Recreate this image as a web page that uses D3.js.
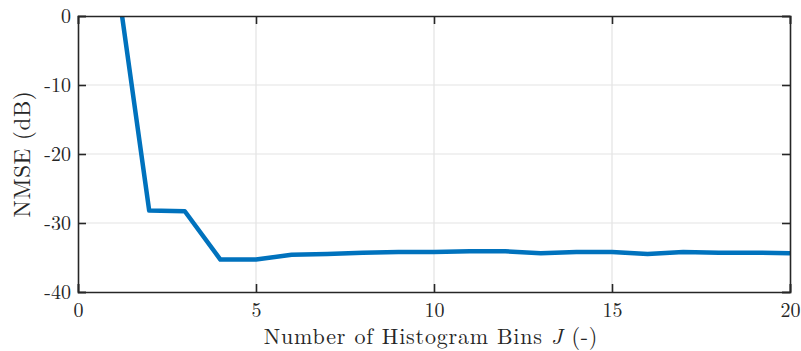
<!DOCTYPE html>
<html lang="en">
<head>
  <meta charset="UTF-8">
  <title>NMSE vs histogram bins</title>
  <script src="https://d3js.org/d3.v7.min.js"></script>
  <style>
    body { margin: 0; background: #fff; }
    svg text { font-family: "Latin Modern Roman", "CMU Serif", "Liberation Serif", serif; fill: #262626; }
  </style>
</head>
<body>
  <div id="viz"></div>
  <script>
    // Data
    const bins = [1, 2, 3, 4, 5, 6, 7, 8, 9, 10, 11, 12, 13, 14, 15, 16, 17, 18, 19, 20];
    const nmse = [8.8, -28.2, -28.3, -35.3, -35.3, -34.6, -34.5, -34.3, -34.2, -34.2,
                  -34.1, -34.1, -34.4, -34.2, -34.2, -34.5, -34.2, -34.3, -34.3, -34.4];
    const xTicks = [0, 5, 10, 15, 20];
    const yTicks = [-40, -30, -20, -10, 0];

    const width = 801, height = 351;
    const margin = {top: 16, right: 11, bottom: 59, left: 78};

    const svg = d3.select('#viz').append('svg')
      .attr('width', width)
      .attr('height', height);

    const x = d3.scaleLinear().domain([0, 20]).range([margin.left, width - margin.right]);
    const y = d3.scaleLinear().domain([-40, 0]).range([height - margin.bottom, margin.top]);

    const axisColor = '#262626';
    const tickLen = 8;

    // Grid
    svg.append('g').selectAll('line')
      .data(xTicks.slice(1, -1)).join('line')
      .attr('x1', d => x(d)).attr('x2', d => x(d))
      .attr('y1', y(-40)).attr('y2', y(0))
      .attr('stroke', '#e3e3e3').attr('stroke-width', 1.2);
    svg.append('g').selectAll('line')
      .data(yTicks.slice(1, -1)).join('line')
      .attr('x1', x(0)).attr('x2', x(20))
      .attr('y1', d => y(d)).attr('y2', d => y(d))
      .attr('stroke', '#e3e3e3').attr('stroke-width', 1.2);

    // Line, clipped to plot box
    svg.append('clipPath').attr('id', 'clip')
      .append('rect')
      .attr('x', x(0)).attr('y', y(0))
      .attr('width', x(20) - x(0)).attr('height', y(-40) - y(0));

    const line = d3.line()
      .x((d, i) => x(bins[i]))
      .y(d => y(d));

    svg.append('path')
      .datum(nmse)
      .attr('clip-path', 'url(#clip)')
      .attr('fill', 'none')
      .attr('stroke', '#0072BD')
      .attr('stroke-width', 4.5)
      .attr('stroke-linejoin', 'round')
      .attr('d', line);

    // Axes (ticks inward on all four sides)
    const axBottom = svg.append('g')
      .attr('transform', `translate(0,${y(-40)})`)
      .call(d3.axisBottom(x).tickValues(xTicks).tickSize(-tickLen).tickPadding(11).tickFormat(d3.format('d')));
    const axTop = svg.append('g')
      .attr('transform', `translate(0,${y(0)})`)
      .call(d3.axisTop(x).tickValues(xTicks).tickSize(-tickLen).tickFormat(''));
    const axLeft = svg.append('g')
      .attr('transform', `translate(${x(0)},0)`)
      .call(d3.axisLeft(y).tickValues(yTicks).tickSize(-tickLen).tickPadding(7).tickFormat(d3.format('d')));
    const axRight = svg.append('g')
      .attr('transform', `translate(${x(20)},0)`)
      .call(d3.axisRight(y).tickValues(yTicks).tickSize(-tickLen).tickFormat(''));

    [axBottom, axTop, axLeft, axRight].forEach(g => {
      g.select('.domain').attr('stroke', axisColor).attr('stroke-width', 1.6);
      g.selectAll('.tick line').attr('stroke', axisColor).attr('stroke-width', 1.6);
      g.selectAll('.tick text').attr('font-size', 20).attr('fill', axisColor)
        .style('font-family', '"Latin Modern Roman", "CMU Serif", "Liberation Serif", serif');
    });
    axLeft.selectAll('.tick text').text(d => d < 0 ? '-' + Math.abs(d) : d);

    // Axis labels
    const xl = svg.append('text')
      .attr('x', (x(0) + x(20)) / 2 - 3)
      .attr('y', 344)
      .attr('text-anchor', 'middle')
      .attr('font-size', 22)
      .attr('letter-spacing', 0.8);
    xl.append('tspan').text('Number of Histogram Bins ');
    xl.append('tspan').attr('font-style', 'italic').text('J');
    xl.append('tspan').text(' (-)');

    svg.append('text')
      .attr('transform', `translate(30,${(y(0) + y(-40)) / 2}) rotate(-90)`)
      .attr('text-anchor', 'middle')
      .attr('font-size', 23)
      .attr('letter-spacing', 0.6)
      .text('NMSE (dB)');
  </script>
</body>
</html>
